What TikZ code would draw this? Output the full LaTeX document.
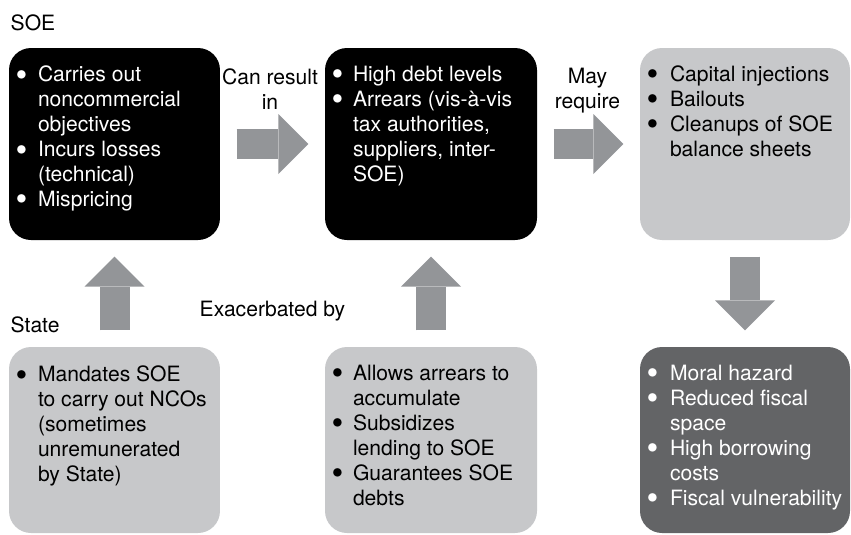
\documentclass[tikz,border=0pt]{standalone}
\usepackage{graphicx}
\usepackage{fontspec}
\setmainfont{TeX Gyre Heros}
\usetikzlibrary{arrows.meta,positioning}

\definecolor{boxgray}{HTML}{C7C8CA}
\definecolor{arrowgray}{HTML}{939598}
\definecolor{darkbox}{HTML}{636466}

% bullet of the lists
\newcommand{\bul}{\makebox[1mm][c]{\raisebox{-0.2em}{\scalebox{1.6}{\textbullet}}}}

\begin{document}
\begin{tikzpicture}[x=0.1cm,y=0.1cm,
		every node/.style={inner sep=0pt, font=\fontsize{6.0}{7.1}\selectfont},
		box/.style={rectangle, rounded corners=2.2mm, minimum width=21.1mm, minimum height=19.2mm},
		lowbox/.style={box, minimum height=18.6mm},
		list/.style={align=left, anchor=north west},
		bigarrow/.style={arrowgray, line width=3mm, -{Triangle[length=3mm, width=6mm, line width=0pt]}, shorten <=1.6mm, shorten >=1.6mm}]
				\useasboundingbox (0,0) rectangle (85.1,-53.4);
				% top row
				\node (soe) [box, fill=black] at (11.45,-14.4) {};
				\node (debt) [box, fill=black, minimum width=21.2mm] at (43.1,-14.4) {};
				\node (bail) [box, fill=boxgray, minimum width=21mm] at (74.5,-14.4) {};
				% bottom row
				\node (state) [lowbox, fill=boxgray] at (11.45,-44.0) {};
				\node (exac) [lowbox, fill=boxgray, minimum width=21.2mm] at (43.1,-44.0) {};
				\node (risk) [lowbox, fill=darkbox, minimum width=21mm] at (74.5,-44.0) {};
				% texts in the boxes
				\node (soetext) [list, white, below right=1.65mm and 0.75mm of soe.north west] {\begin{tabular}{@{}l@{\hspace{1.15mm}}l@{}}
					\bul & Carries out\\ & noncommercial\\ & objectives\\
					\bul & Incurs losses\\ & (technical)\\
					\bul & Mispricing\end{tabular}};
				\node (debttext) [list, white, below right=1.6mm and 0.75mm of debt.north west] {\begin{tabular}{@{}l@{\hspace{1.05mm}}l@{}}
					\bul & High debt levels\\
					\bul & Arrears (vis-à-vis\\ & tax authorities,\\ & suppliers, inter-\\ & SOE)\end{tabular}};
				\node (bailtext) [list, below right=1.6mm and 0.75mm of bail.north west] {\begin{tabular}{@{}l@{\hspace{1.25mm}}l@{}}
					\bul & Capital injections\\
					\bul & Bailouts\\
					\bul & Cleanups of SOE\\ & balance sheets\end{tabular}};
				\node (statetext) [list, below right=1.75mm and 0.75mm of state.north west] {\begin{tabular}{@{}l@{\hspace{1.15mm}}l@{}}
					\bul & Mandates SOE\\ & to carry out NCOs\\ & (sometimes\\ & unremunerated\\ & by State)\end{tabular}};
				\node (exactext) [list, below right=1.6mm and 0.75mm of exac.north west] {\begin{tabular}{@{}l@{\hspace{1.05mm}}l@{}}
					\bul & Allows arrears to\\ & accumulate\\
					\bul & Subsidizes\\ & lending to SOE\\
					\bul & Guarantees SOE\\ & debts\end{tabular}};
				\node (risktext) [list, white, below right=1.6mm and 0.75mm of risk.north west] {\begin{tabular}{@{}l@{\hspace{1.25mm}}l@{}}
					\bul & Moral hazard\\
					\bul & Reduced fiscal\\ & space\\
					\bul & High borrowing\\ & costs\\
					\bul & Fiscal vulnerability\end{tabular}};
				% labels
				\node (soelabel) [anchor=base west] at (1.0,-3.0) {SOE};
				\node (statelabel) [anchor=base west] at (1.0,-33.2) {State};
				\node (canlabel) [align=center, anchor=north] at (27.0,-6.8) {Can result\\in};
				\node (maylabel) [align=center, anchor=north] at (58.75,-6.7) {May\\require};
				\node (exaclabel) [anchor=base west] at (19.9,-31.6) {Exacerbated by};
				% block arrows
				\draw [bigarrow] (soe) -- (debt);
				\draw [bigarrow] (debt) -- (bail);
				\draw [bigarrow] (state) -- (soe);
				\draw [bigarrow] (exac) -- (debt);
				\draw [bigarrow] (bail) -- (risk);
			\end{tikzpicture}
\end{document}
